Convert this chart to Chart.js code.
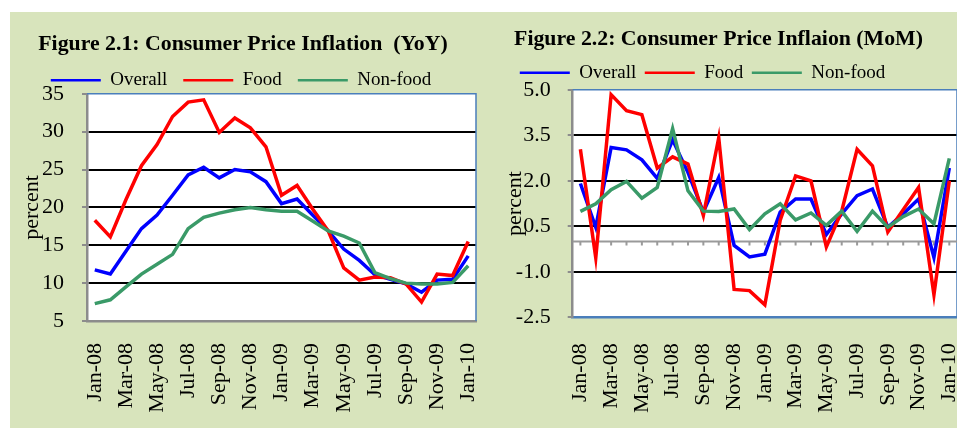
<!DOCTYPE html>
<html>
<head>
<meta charset="utf-8">
<script src="https://cdn.jsdelivr.net/npm/chart.js@4.4.0/dist/chart.umd.min.js"></script>
<style>
  body { margin: 0; background: #fff; }
  #panel { position: absolute; left: 10px; top: 12px; width: 947px; height: 416px; background: #D8E4BC; }
  #leftBox { position: absolute; left: 10px; top: 12px; }
  #rightBox { position: absolute; left: 480px; top: 12px; }
</style>
</head>
<body>
<div id="panel"></div>
<div id="rightBox"><canvas id="chartMoM" width="477" height="416"></canvas></div>
<div id="leftBox"><canvas id="chartYoY" width="480" height="416"></canvas></div>
<script>
// months Jan-08 .. Jan-10
const months = [
  "Jan-08", "Feb-08", "Mar-08", "Apr-08", "May-08", "Jun-08", "Jul-08",
  "Aug-08", "Sep-08", "Oct-08", "Nov-08", "Dec-08", "Jan-09", "Feb-09",
  "Mar-09", "Apr-09", "May-09", "Jun-09", "Jul-09", "Aug-09", "Sep-09",
  "Oct-09", "Nov-09", "Dec-09", "Jan-10",
];
const seriesNames = ["Overall", "Food", "Non-food"];

// Figure 2.1 - year on year
const yoyOverall = [11.75, 11.2, 14.2, 17.2, 19.0, 21.6, 24.3, 25.3, 23.9, 25.0, 24.7, 23.4,
  20.5, 21.1, 19.0, 16.9, 14.5, 13.0, 11.1, 10.5, 9.9, 8.8, 10.4, 10.5, 13.6];
const yoyFood = [18.3, 16.1, 21.0, 25.5, 28.3, 32.0, 33.9, 34.2, 29.9, 31.8, 30.5, 28.0,
  21.6, 22.9, 19.8, 16.9, 12.0, 10.4, 10.8, 10.7, 9.9, 7.5, 11.2, 11.0, 15.5];
const yoyNonFood = [7.3, 7.8, 9.5, 11.2, 12.5, 13.8, 17.2, 18.7, 19.25, 19.7, 20.0, 19.7,
  19.5, 19.5, 18.2, 16.9, 16.2, 15.3, 11.4, 10.6, 10.0, 9.9, 9.9, 10.1, 12.3];

// Figure 2.2 - month on month
const momOverall = [1.91, 0.47, 3.1, 3.02, 2.69, 2.08, 3.35, 2.27, 0.97, 2.11, -0.13, -0.51,
  -0.42, 0.97, 1.4, 1.4, 0.23, 0.91, 1.51, 1.73, 0.47, 0.91, 1.4, -0.53, 2.42];
const momFood = [3.04, -0.54, 4.84, 4.31, 4.18, 2.42, 2.79, 2.55, 0.86, 3.42, -1.58, -1.62,
  -2.09, 0.7, 2.16, 2.0, -0.18, 1.0, 3.04, 2.49, 0.31, 1.05, 1.78, -1.76, 2.0];
const momNonFood = [0.99, 1.24, 1.71, 1.98, 1.43, 1.78, 3.72, 1.67, 1.0, 0.99, 1.07, 0.39,
  0.91, 1.24, 0.71, 0.94, 0.53, 1.0, 0.33, 1.0, 0.47, 0.82, 1.07, 0.58, 2.74];

const colors = ["#0000FF", "#FF0000", "#3A9A68"];

Chart.defaults.font.family = "'Liberation Serif', 'Times New Roman', serif";
Chart.defaults.color = "#000";

const plotBg = {
  id: "plotBg",
  beforeDraw(chart) {
    const { ctx, chartArea: a } = chart;
    ctx.save();
    ctx.fillStyle = "#fff";
    ctx.fillRect(a.left, a.top, a.right - a.left, a.bottom - a.top);
    ctx.restore();
  },
};

const frame = {
  id: "frame",
  afterLayout(chart, args, opts) {
    // nudge the legend sideways, the original isn't centred on the panel
    if (opts.legendShift && chart.legend) {
      chart.legend.left += opts.legendShift;
      chart.legend.right += opts.legendShift;
    }
  },
  beforeDatasetsDraw(chart, args, opts) {
    const { ctx, chartArea: a, scales } = chart;
    ctx.save();
    ctx.strokeStyle = "#4A7EBB";
    ctx.lineWidth = 1.5;
    ctx.beginPath();
    ctx.moveTo(a.left, a.top);
    ctx.lineTo(a.right, a.top);
    ctx.lineTo(a.right, a.bottom);
    ctx.stroke();
    if (opts.zeroAxis) {
      const y0 = scales.y.getPixelForValue(0);
      ctx.strokeStyle = "#9A9A9A";
      ctx.lineWidth = 2;
      ctx.beginPath();
      ctx.moveTo(a.left, y0);
      ctx.lineTo(a.right, y0);
      for (let i = 0; i < scales.x.ticks.length; i++) {
        const px = scales.x.getPixelForTick(i);
        ctx.moveTo(px, y0);
        ctx.lineTo(px, y0 + 4);
      }
      ctx.stroke();
    }
    ctx.restore();
  },
};

function makeChart(id, c) {
  const data = [c.overall, c.food, c.nonFood];
  return new Chart(document.getElementById(id), {
    type: "line",
    data: {
      labels: months,
      datasets: data.map((d, i) => ({
        label: seriesNames[i],
        data: d,
        borderColor: colors[i],
        backgroundColor: colors[i],
        borderWidth: 3.5,
        pointRadius: 0,
        tension: 0,
        order: 3 - i,
      })),
    },
    plugins: [plotBg, frame],
    options: {
      responsive: false,
      animation: false,
      layout: { padding: { left: 0, right: c.padRight, top: 0, bottom: 0 } },
      plugins: {
        tooltip: { enabled: false },
        frame: { zeroAxis: c.zeroAxis, legendShift: c.legendShift },
        title: {
          display: true,
          text: c.title,
          font: { size: 21.8, weight: "bold", lineHeight: 1 },
          color: "#000",
          padding: { top: c.titleTop, bottom: c.titleBottom },
        },
        legend: {
          display: true,
          maxHeight: c.legendHeight,
          labels: {
            boxWidth: 50,
            boxHeight: 2.5,
            padding: c.legendPad,
            font: { size: 19 },
            color: "#000",
            sort: (a, b) => a.datasetIndex - b.datasetIndex,
            generateLabels: (chart) =>
              Chart.defaults.plugins.legend.labels.generateLabels(chart).map((l) => ({ ...l, lineWidth: 0 })),
          },
        },
      },
      scales: {
        x: {
          offset: true,
          grid: { display: false, drawTicks: false },
          border: { color: c.xBorder, width: 2.5 },
          ticks: {
            autoSkip: false,
            minRotation: 90,
            maxRotation: 90,
            padding: c.xLabelGap,
            font: { size: 22 },
            callback: (v, i) => (i % 2 === 0 ? months[i] : ""),
          },
          afterFit: (s) => {
            s.height = c.xHeight;
            s.paddingLeft = 0;
            s.paddingRight = 0;
          },
        },
        y: {
          min: c.yMin,
          max: c.yMax,
          ticks: {
            stepSize: c.yStep,
            padding: c.yLabelGap,
            font: { size: 22 },
            callback: (v) => v.toFixed(c.decimals),
          },
          grid: {
            color: (ctx) =>
              ctx.tick && ctx.tick.value > c.yMin && ctx.tick.value < c.yMax ? "#000" : "rgba(0,0,0,0)",
            lineWidth: 2,
            tickColor: "#8C8C8C",
            tickLength: 5,
          },
          border: { color: "#8C8C8C", width: 2.5 },
          title: {
            display: true,
            text: "percent",
            font: { size: 22, lineHeight: 1.2 },
            color: "#000",
            padding: { top: c.yTitleGap, bottom: 0 },
          },
          afterFit: (s) => {
            s.width = c.yWidth;
          },
        },
      },
    },
  });
}

makeChart("chartYoY", {
  overall: yoyOverall,
  food: yoyFood,
  nonFood: yoyNonFood,
  title: "Figure 2.1: Consumer Price Inflation  (YoY)",
  yMin: 5, yMax: 35, yStep: 5, decimals: 0,
  titleTop: 21, titleBottom: 0,
  legendPad: 16, legendHeight: 39,
  yWidth: 77, padRight: 14, xHeight: 107,
  xLabelGap: 22, yLabelGap: 18, yTitleGap: 9.5,
  xBorder: "#8C8C8C", zeroAxis: false, legendShift: -2,
});

makeChart("chartMoM", {
  overall: momOverall,
  food: momFood,
  nonFood: momNonFood,
  title: "Figure 2.2: Consumer Price Inflaion (MoM)",
  yMin: -2.5, yMax: 5, yStep: 1.5, decimals: 1,
  titleTop: 16, titleBottom: 5,
  legendPad: 8.5, legendHeight: 35,
  yWidth: 92.7, padRight: 0, xHeight: 110.7,
  xLabelGap: 26, yLabelGap: 17, yTitleGap: 22,
  xBorder: "#4A7EBB", zeroAxis: true, legendShift: -16,
});
</script>
</body>
</html>
